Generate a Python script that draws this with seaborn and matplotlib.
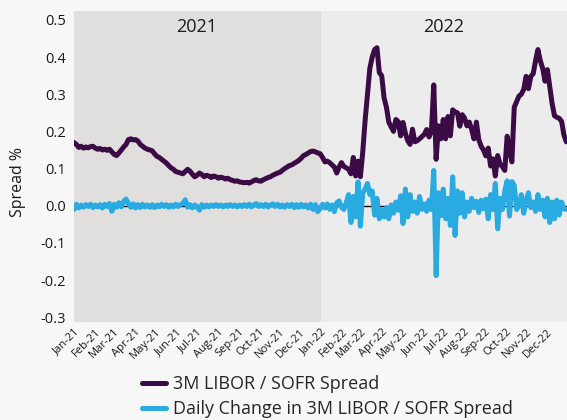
import pandas as pd
import matplotlib
matplotlib.use("Agg")
import matplotlib.pyplot as plt
import matplotlib.dates as mdates
import seaborn as sns

# semi-weekly readings (every 3.5 days)
spread_2021 = [
    0.170, 0.165, 0.157, 0.160, 0.155, 0.158, 0.156, 0.159,
    0.160, 0.155, 0.152, 0.154, 0.150, 0.152, 0.149, 0.152,
    0.145, 0.138, 0.135, 0.142, 0.150, 0.158, 0.165, 0.178,
    0.180, 0.177, 0.178, 0.174, 0.165, 0.160, 0.155, 0.152,
    0.150, 0.148, 0.140, 0.133, 0.130, 0.125, 0.120, 0.115,
    0.108, 0.102, 0.098, 0.092, 0.090, 0.088, 0.086, 0.092,
    0.098, 0.093, 0.085, 0.078, 0.082, 0.088, 0.084, 0.078,
    0.082, 0.080, 0.076, 0.080, 0.078, 0.074, 0.077, 0.075,
    0.072, 0.074, 0.070, 0.068, 0.066, 0.067, 0.064, 0.063,
    0.062, 0.063, 0.061, 0.064, 0.068, 0.070, 0.067, 0.066,
    0.070, 0.073, 0.076, 0.078, 0.082, 0.085, 0.088, 0.090,
    0.095, 0.100, 0.104, 0.108, 0.110, 0.114, 0.118, 0.122,
    0.128, 0.135, 0.138, 0.142, 0.146, 0.147, 0.145, 0.142,
]
spread_2022 = [
    0.140, 0.130, 0.118, 0.120, 0.116, 0.110, 0.104, 0.088,
    0.104, 0.116, 0.106, 0.102, 0.098, 0.086, 0.130, 0.080,
    0.120, 0.078, 0.145, 0.230, 0.300, 0.370, 0.400, 0.420,
    0.425, 0.358, 0.350, 0.290, 0.265, 0.225, 0.212, 0.200,
    0.232, 0.226, 0.188, 0.224, 0.195, 0.175, 0.165, 0.206,
    0.172, 0.175, 0.180, 0.186, 0.192, 0.205, 0.185, 0.200,
    0.325, 0.125, 0.215, 0.180, 0.232, 0.180, 0.240, 0.188,
    0.258, 0.252, 0.250, 0.214, 0.245, 0.236, 0.215, 0.225,
    0.205, 0.180, 0.225, 0.178, 0.160, 0.150, 0.134, 0.155,
    0.107, 0.126, 0.080, 0.135, 0.112, 0.105, 0.095, 0.187,
    0.150, 0.118, 0.265, 0.280, 0.295, 0.300, 0.313, 0.348,
    0.315, 0.348, 0.355, 0.390, 0.420, 0.390, 0.370, 0.335,
    0.366, 0.320, 0.275, 0.242, 0.238, 0.235, 0.227, 0.190,
    0.172,
]
change_2021 = [
    -0.010, 0.004, -0.006, 0.002, -0.004, 0.003, -0.002, 0.004,
    -0.005, 0.002, -0.003, 0.003, -0.006, 0.004, -0.002, 0.006,
    -0.015, 0.004, -0.004, 0.008, -0.003, 0.012, 0.018, 0.006,
    -0.004, 0.005, -0.006, 0.003, -0.005, 0.004, -0.003, 0.002,
    -0.004, 0.003, -0.005, 0.002, -0.003, 0.004, -0.002, 0.003,
    -0.004, 0.002, -0.003, 0.004, -0.002, 0.003, 0.006, 0.016,
    -0.004, 0.003, -0.006, 0.002, -0.003, -0.012, 0.003, -0.004,
    0.002, -0.003, 0.002, -0.002, 0.003, -0.002, 0.002, -0.003,
    0.002, -0.002, 0.003, -0.002, 0.002, -0.003, 0.002, -0.002,
    0.003, -0.002, 0.004, -0.003, 0.002, 0.006, -0.002, 0.003,
    -0.002, 0.004, -0.003, 0.002, 0.005, -0.002, 0.004, -0.003,
    0.002, -0.004, 0.003, -0.002, 0.004, -0.005, 0.003, -0.004,
    0.004, -0.003, 0.002, -0.006, 0.004, -0.010, 0.003, -0.016,
]
change_2022 = [
    -0.008, 0.004, -0.006, 0.005, -0.010, 0.002, -0.016, 0.008,
    0.013, -0.004, -0.010, 0.008, 0.030, -0.045, 0.025, -0.030,
    0.064, -0.055, 0.035, 0.045, 0.060, 0.030, 0.040, -0.025,
    0.020, -0.035, -0.010, -0.030, -0.005, -0.035, 0.002, -0.020,
    0.010, -0.012, 0.027, -0.048, 0.045, -0.030, 0.030, -0.015,
    0.010, -0.020, 0.025, -0.010, 0.005, -0.015, 0.015, -0.010,
    0.095, -0.188, 0.035, -0.027, 0.045, -0.035, 0.020, -0.053,
    0.078, -0.080, 0.040, -0.020, 0.035, -0.030, 0.010, -0.015,
    0.020, -0.005, 0.012, -0.018, 0.015, -0.008, 0.018, -0.035,
    0.030, -0.010, 0.060, -0.062, 0.020, -0.010, 0.040, 0.067,
    -0.028, 0.065, 0.055, -0.010, 0.000, 0.030, -0.020, 0.015,
    0.035, -0.005, 0.010, -0.015, 0.030, -0.010, 0.015, -0.030,
    0.020, -0.045, 0.010, -0.035, 0.015, -0.025, 0.010, -0.008,
    -0.010,
]

label_spread = "3M LIBOR / SOFR Spread"
label_change = "Daily Change in 3M LIBOR / SOFR Spread"

dates = pd.date_range("2021-01-01", periods=len(spread_2021) + len(spread_2022), freq="84h")
df = pd.concat([
    pd.DataFrame({"Date": dates, "Value": spread_2021 + spread_2022, "Series": label_spread}),
    pd.DataFrame({"Date": dates, "Value": change_2021 + change_2022, "Series": label_change}),
])

sns.set_theme(style="white")
plt.rcParams["font.family"] = ["Open Sans", "DejaVu Sans"]

bg = "#f7f7f7"
txt = "#1a1a1a"
fig = plt.figure(figsize=(5.67, 4.2), dpi=100, facecolor=bg)
ax = fig.add_axes([0.1305, 0.233, 0.8695, 0.741])
ax.set_facecolor(bg)

ax.axvspan(pd.Timestamp("2021-01-01"), pd.Timestamp("2022-01-01"), color="#e0dfdd", zorder=0, lw=0)
ax.axvspan(pd.Timestamp("2022-01-01"), pd.Timestamp("2022-12-31"), color="#ececec", zorder=0, lw=0)
ax.axhline(0, color="black", lw=1, zorder=1)

sns.lineplot(data=df, x="Date", y="Value", hue="Series",
             palette={label_spread: "#3b0b45", label_change: "#29abe2"},
             linewidth=3.6, ax=ax, zorder=3)

ax.set_xlim(pd.Timestamp("2021-01-01"), pd.Timestamp("2022-12-31"))
ax.set_ylim(-0.313, 0.524)
ax.set_yticks([-0.3, -0.2, -0.1, 0.0, 0.1, 0.2, 0.3, 0.4, 0.5])
ax.yaxis.set_major_formatter(matplotlib.ticker.FormatStrFormatter("%.1f"))
ax.xaxis.set_major_locator(mdates.MonthLocator())
ax.xaxis.set_major_formatter(mdates.DateFormatter("%b-%y"))
ax.tick_params(axis="y", labelsize=10.5, length=0, pad=6, colors=txt)
ax.tick_params(axis="x", labelsize=8, length=0, pad=3, colors=txt)
for lbl in ax.get_xticklabels():
    lbl.set_rotation(45)
    lbl.set_ha("right")
    lbl.set_rotation_mode("anchor")

ax.set_xlabel("")
ax.set_ylabel("")
for s in ax.spines.values():
    s.set_visible(False)
fig.text(18 / 567, 1 - 182 / 420, "Spread %", rotation=90, ha="center", va="center",
         fontsize=11.5, color=txt)

ax.text(pd.Timestamp("2021-07-02"), 0.48, "2021", ha="center", va="center", fontsize=13, color=txt)
ax.text(pd.Timestamp("2022-07-02"), 0.48, "2022", ha="center", va="center", fontsize=13, color=txt)

handles, labels = ax.get_legend_handles_labels()
ax.legend_.remove()
fig.legend(handles, labels, loc="upper left", bbox_to_anchor=(0.25, 0.107),
           frameon=False, fontsize=13, handlelength=1.35, handletextpad=0.4,
           labelspacing=0.38, borderaxespad=0, borderpad=0)

fig.savefig("out.png", dpi=100, facecolor=bg)
